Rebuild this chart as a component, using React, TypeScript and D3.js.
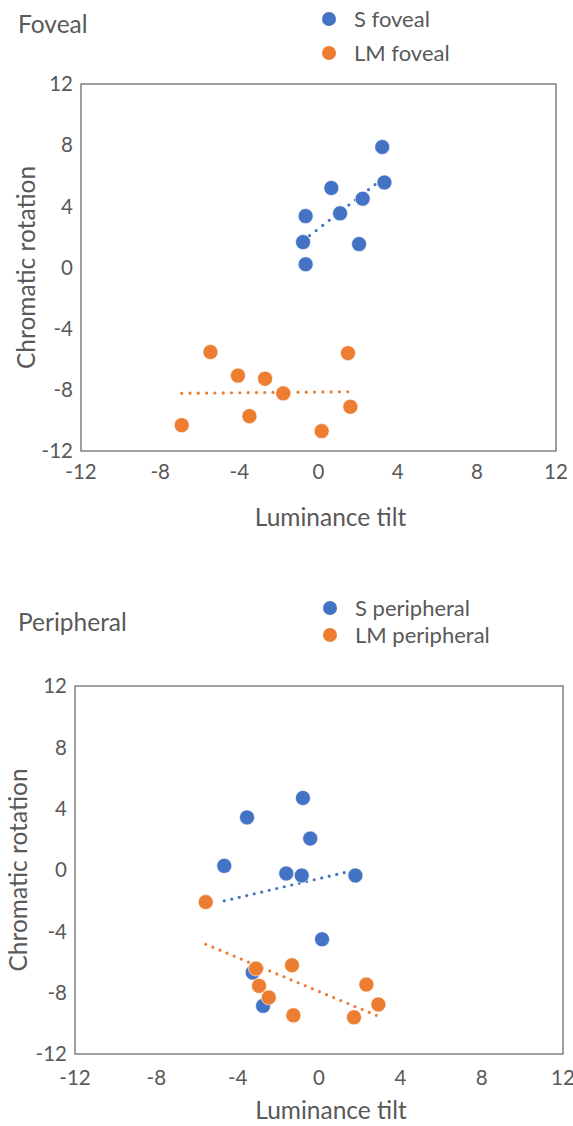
import React, { useRef, useEffect } from 'react';
import { select, scaleLinear, line } from 'd3';

// tick values shared by both panels
const ticks = [-12, -8, -4, 0, 4, 8, 12];

// foveal panel
const sFovealX = [3.22, 3.33, 0.65, 2.23, 1.09, -0.65, -0.78, 2.05, -0.65];
const sFovealY = [7.88, 5.56, 5.2, 4.5, 3.54, 3.36, 1.66, 1.53, 0.21];
const lmFovealX = [-5.46, 1.49, -4.07, -2.7, -1.78, 1.61, -3.49, -6.91, 0.16];
const lmFovealY = [-5.53, -5.6, -7.07, -7.27, -8.23, -9.11, -9.72, -10.31, -10.7];

// peripheral panel
const sPeriphX = [-0.79, -3.54, -0.43, -4.66, -1.61, -0.85, 1.79, 0.15, -3.26, -2.75];
const sPeriphY = [4.7, 3.43, 2.05, 0.27, -0.23, -0.36, -0.36, -4.52, -6.69, -8.86];
const lmPeriphX = [-5.57, -3.1, -1.33, -2.95, 2.33, -2.47, 2.92, -1.26, 1.72];
const lmPeriphY = [-2.09, -6.43, -6.21, -7.56, -7.47, -8.31, -8.77, -9.48, -9.61];

const BLUE = '#4472C4';
const ORANGE = '#ED7D31';
const TEXT = '#595959';
const FONT = 'Lato, "Open Sans", sans-serif';

// least squares fit, drawn from min x to max x like Excel
const fit = (xs, ys) => {
  const n = xs.length;
  const mx = xs.reduce((a, b) => a + b, 0) / n;
  const my = ys.reduce((a, b) => a + b, 0) / n;
  let sxy = 0;
  let sxx = 0;
  xs.forEach((x, i) => {
    sxy += (x - mx) * (ys[i] - my);
    sxx += (x - mx) * (x - mx);
  });
  const b = sxy / sxx;
  const x0 = Math.min(...xs);
  const x1 = Math.max(...xs);
  return [
    [x0, my + b * (x0 - mx)],
    [x1, my + b * (x1 - mx)],
  ];
};

const panels = [
  {
    title: 'Foveal',
    titleY: 24,
    box: { left: 81, right: 556, top: 84, bottom: 451 },
    legendX: 329,
    legendY: [19, 53],
    xTickY: 472,
    xTitleY: 517,
    yTitleX: 26,
    r: 7.5,
    dash: '0 8.3',
    series: [
      { name: 'S foveal', xs: sFovealX, ys: sFovealY, color: BLUE },
      { name: 'LM foveal', xs: lmFovealX, ys: lmFovealY, color: ORANGE },
    ],
  },
  {
    title: 'Peripheral',
    titleY: 622,
    box: { left: 75, right: 563, top: 686, bottom: 1054 },
    legendX: 330,
    legendY: [608, 635],
    xTickY: 1078,
    xTitleY: 1110,
    yTitleX: 18,
    r: 7.5,
    dash: '0 7.7',
    series: [
      { name: 'S peripheral', xs: sPeriphX, ys: sPeriphY, color: BLUE },
      { name: 'LM peripheral', xs: lmPeriphX, ys: lmPeriphY, color: ORANGE },
    ],
  },
];

const App = () => {
  const svgRef = useRef();

  useEffect(() => {
    const svg = select(svgRef.current);
    svg.selectAll('*').remove();

    panels.forEach((p) => {
      const g = svg.append('g');
      const { left, right, top, bottom } = p.box;
      const x = scaleLinear().domain([-12, 12]).range([left, right]);
      const y = scaleLinear().domain([-12, 12]).range([bottom, top]);

      g.append('text')
        .attr('x', 18)
        .attr('y', p.titleY)
        .attr('dy', '0.35em')
        .attr('font-size', 24.5)
        .attr('fill', TEXT)
        .text(p.title);

      // legend
      p.series.forEach((s, i) => {
        g.append('circle')
          .attr('cx', p.legendX)
          .attr('cy', p.legendY[i])
          .attr('r', 7)
          .attr('fill', s.color);
        g.append('text')
          .attr('x', p.legendX + 25)
          .attr('y', p.legendY[i])
          .attr('dy', '0.35em')
          .attr('font-size', 22)
          .attr('fill', TEXT)
          .text(s.name);
      });

      // plot frame
      g.append('rect')
        .attr('x', left)
        .attr('y', top)
        .attr('width', right - left)
        .attr('height', bottom - top)
        .attr('fill', 'none')
        .attr('stroke', '#6e6e6e')
        .attr('stroke-width', 1.3);

      g.selectAll('.ytick')
        .data(ticks)
        .join('text')
        .attr('class', 'ytick')
        .attr('x', left - 8)
        .attr('y', (d) => y(d))
        .attr('dy', '0.35em')
        .attr('text-anchor', 'end')
        .attr('font-size', 20.5)
        .attr('fill', TEXT)
        .text((d) => d);

      g.selectAll('.xtick')
        .data(ticks)
        .join('text')
        .attr('class', 'xtick')
        .attr('x', (d) => x(d))
        .attr('y', p.xTickY)
        .attr('dy', '0.35em')
        .attr('text-anchor', 'middle')
        .attr('font-size', 20.5)
        .attr('fill', TEXT)
        .text((d) => d);

      g.append('text')
        .attr('x', (left + right) / 2 + 12)
        .attr('y', p.xTitleY)
        .attr('dy', '0.35em')
        .attr('text-anchor', 'middle')
        .attr('font-size', 24.5)
        .attr('fill', TEXT)
        .text('Luminance tilt');

      g.append('text')
        .attr('transform', `translate(${p.yTitleX},${(top + bottom) / 2}) rotate(-90)`)
        .attr('dy', '0.35em')
        .attr('text-anchor', 'middle')
        .attr('font-size', 24.5)
        .attr('fill', TEXT)
        .text('Chromatic rotation');

      const path = line()
        .x((d) => x(d[0]))
        .y((d) => y(d[1]));

      // trendlines under the markers
      p.series.forEach((s) => {
        g.append('path')
          .attr('d', path(fit(s.xs, s.ys)))
          .attr('fill', 'none')
          .attr('stroke', s.color)
          .attr('stroke-width', 3.2)
          .attr('stroke-linecap', 'round')
          .attr('stroke-dasharray', p.dash);
      });

      p.series.forEach((s) => {
        g.selectAll(null)
          .data(s.xs.map((v, i) => [v, s.ys[i]]))
          .join('circle')
          .attr('cx', (d) => x(d[0]))
          .attr('cy', (d) => y(d[1]))
          .attr('r', p.r)
          .attr('fill', s.color)
          .attr('stroke', '#fff')
          .attr('stroke-width', 0.6);
      });
    });
  }, []);

  return (
    <svg
      ref={svgRef}
      width={573}
      height={1126}
      style={{ position: 'absolute', left: 0, top: 0, fontFamily: FONT, background: '#fff' }}
    />
  );
};

export default App;
